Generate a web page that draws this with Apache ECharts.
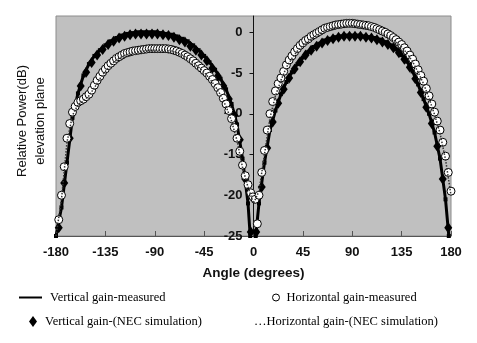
<!DOCTYPE html>
<html>
<head>
<meta charset="utf-8">
<script src="https://cdn.jsdelivr.net/npm/echarts@6/dist/echarts.min.js"></script>
<style>html,body{margin:0;padding:0;background:#fff}#c{width:477px;height:343px}</style>
</head>
<body>
<div id="c"></div>
<script>
// x tick labels / axis range
const xTicks = [-180, -135, -90, -45, 0, 45, 90, 135, 180];
const yTicks = [-25, -20, -15, -10, -5, 0];

// Vertical gain - measured
const vmAngles = [-180,-175,-170,-165,-160,-155,-150,-145,-140,-135,-130,-125,-120,-115,-110,-105,-100,-95,-90,-85,-80,-75,-70,-65,-60,-55,-50,-45,-40,-35,-30,-25,-20,-15,-10,-5,-3,0,2,5,10,15,20,25,30,35,40,45,50,55,60,65,70,75,80,85,90,95,100,105,110,115,120,125,130,135,140,145,150,155,160,165,170,175,178];
const vmValues = [-25,-21.5,-16,-10.5,-7.5,-5.3,-3.9,-2.9,-2.2,-1.6,-1.1,-0.7,-0.4,-0.2,-0.1,0,0,0,0,-0.1,-0.2,-0.3,-0.5,-0.8,-1.1,-1.6,-2.2,-2.9,-3.7,-4.6,-5.7,-7.0,-8.8,-11.3,-15.5,-21,-25,-35,-25,-21,-16,-12,-9.6,-7.6,-6.1,-4.9,-3.9,-3.1,-2.4,-1.8,-1.4,-1.0,-0.8,-0.6,-0.5,-0.4,-0.4,-0.4,-0.5,-0.6,-0.7,-0.9,-1.2,-1.6,-2.1,-2.8,-3.6,-4.8,-6.4,-8.2,-10.0,-12.3,-15.5,-20.5,-25];

// Horizontal gain - measured
const hmAngles = [-177.5,-175,-172.5,-170,-167.5,-165,-162.5,-160,-157.5,-155,-152.5,-150,-147.5,-145,-142.5,-140,-137.5,-135,-132.5,-130,-127.5,-125,-122.5,-120,-117.5,-115,-112.5,-110,-107.5,-105,-102.5,-100,-97.5,-95,-92.5,-90,-87.5,-85,-82.5,-80,-77.5,-75,-72.5,-70,-67.5,-65,-62.5,-60,-57.5,-55,-52.5,-50,-47.5,-45,-42.5,-40,-37.5,-35,-32.5,-30,-27.5,-25,-22.5,-20,-17.5,-15,-12.5,-10,-7.5,-5,-2.5,-0.5,1.5,3.5,5,7.5,10,12.5,15,17.5,20,22.5,25,27.5,30,32.5,35,37.5,40,42.5,45,47.5,50,52.5,55,57.5,60,62.5,65,67.5,70,72.5,75,77.5,80,82.5,85,87.5,90,92.5,95,97.5,100,102.5,105,107.5,110,112.5,115,117.5,120,122.5,125,127.5,130,132.5,135,137.5,140,142.5,145,147.5,150,152.5,155,157.5,160,162.5,165,167.5,170,172.5,175,177.5,180];
const hmValues = [-23,-20,-16.5,-13,-11.2,-9.8,-9.1,-8.6,-8.4,-8.2,-7.9,-7.6,-7.1,-6.5,-5.9,-5.4,-4.9,-4.5,-4.1,-3.8,-3.5,-3.2,-3.0,-2.8,-2.6,-2.5,-2.4,-2.3,-2.25,-2.2,-2.15,-2.1,-2.05,-2.0,-2.0,-2.0,-2.0,-2.0,-2.0,-2.0,-2.05,-2.1,-2.2,-2.3,-2.45,-2.6,-2.8,-3.0,-3.25,-3.5,-3.8,-4.1,-4.4,-4.7,-5.0,-5.4,-5.8,-6.3,-6.8,-7.4,-8.1,-8.8,-9.6,-10.6,-11.7,-13.0,-14.6,-16.3,-17.6,-18.7,-19.7,-20.2,-20.5,-23.5,-20,-17.2,-14.5,-12.0,-10,-8.5,-7.2,-6.3,-5.6,-4.8,-4.0,-3.4,-2.9,-2.4,-2.0,-1.6,-1.3,-1.0,-0.8,-0.5,-0.3,-0.1,0.1,0.3,0.5,0.6,0.7,0.8,0.9,0.95,1.0,1.05,1.1,1.1,1.1,1.05,1.0,0.95,0.9,0.85,0.8,0.7,0.6,0.45,0.3,0.15,0.0,-0.2,-0.4,-0.65,-0.9,-1.2,-1.5,-1.9,-2.3,-2.8,-3.3,-3.9,-4.6,-5.3,-6.0,-6.9,-7.8,-8.8,-9.8,-10.9,-12.0,-13.5,-15.2,-17.2,-19.5];

// Vertical gain - NEC simulation
const vnAngles = [-177.5,-172.5,-167.5,-162.5,-157.5,-152.5,-147.5,-142.5,-137.5,-132.5,-127.5,-122.5,-117.5,-112.5,-107.5,-102.5,-97.5,-92.5,-87.5,-82.5,-77.5,-72.5,-67.5,-62.5,-57.5,-52.5,-47.5,-42.5,-37.5,-32.5,-27.5,-22.5,-17.5,-12.5,-7.5,-2.5,2.5,7.5,12.5,17.5,22.5,27.5,32.5,37.5,42.5,47.5,52.5,57.5,62.5,67.5,72.5,77.5,82.5,87.5,92.5,97.5,102.5,107.5,112.5,117.5,122.5,127.5,132.5,137.5,142.5,147.5,152.5,157.5,162.5,167.5,172.5,177.5];
const vnValues = [-24,-18.5,-13,-9,-6.6,-4.9,-3.7,-2.8,-2.1,-1.5,-1.1,-0.7,-0.5,-0.3,-0.2,-0.2,-0.2,-0.2,-0.2,-0.3,-0.4,-0.6,-0.9,-1.2,-1.7,-2.2,-2.8,-3.5,-4.4,-5.4,-6.6,-8.2,-10.2,-13.2,-18,-24.5,-24.5,-19,-14.2,-11,-8.7,-7,-5.6,-4.5,-3.6,-2.8,-2.2,-1.7,-1.3,-1.0,-0.8,-0.6,-0.5,-0.5,-0.5,-0.5,-0.6,-0.7,-0.9,-1.2,-1.5,-1.9,-2.5,-3.3,-4.3,-5.7,-7.4,-9.2,-11.2,-14,-18,-24];

// Horizontal gain - NEC simulation
const hnAngles = [-180,-175,-170,-165,-160,-155,-150,-145,-140,-135,-130,-125,-120,-115,-110,-105,-100,-95,-90,-85,-80,-75,-70,-65,-60,-55,-50,-45,-40,-35,-30,-25,-20,-15,-10,-5,0,5,10,15,20,25,30,35,40,45,50,55,60,65,70,75,80,85,90,95,100,105,110,115,120,125,130,135,140,145,150,155,160,165,170,175,180];
const hnValues = [-25,-20.5,-13.5,-10.2,-8.9,-8.4,-7.8,-6.8,-5.7,-4.8,-4.0,-3.4,-3.0,-2.7,-2.5,-2.4,-2.3,-2.2,-2.2,-2.2,-2.2,-2.3,-2.5,-2.8,-3.2,-3.7,-4.3,-4.9,-5.7,-6.6,-7.7,-9.1,-10.9,-13.3,-16.6,-19,-21,-19.5,-15,-10.5,-7.8,-5.9,-4.3,-3.2,-2.3,-1.6,-1.1,-0.6,-0.2,0.2,0.4,0.6,0.7,0.8,0.8,0.7,0.6,0.5,0.3,0.0,-0.3,-0.7,-1.2,-1.8,-2.6,-3.6,-4.9,-6.3,-8.1,-10.1,-12.4,-15.6,-20];

const seriesNames = ['Vertical gain-measured', 'Horizontal gain-measured', 'Vertical gain-(NEC simulation)', 'Horizontal gain-(NEC simulation)'];

const pair = (a, v) => a.map((x, i) => [x, v[i]]);

const chart = echarts.init(document.getElementById('c'), null, {renderer: 'canvas'});
const sansBold = {fontFamily: 'Liberation Sans, Arial, sans-serif', fontWeight: 'bold', fontSize: 13, color: '#111'};
const serif = {fontFamily: 'Liberation Serif, Times New Roman, serif', fontSize: 12.5, color: '#000'};

const gridLeft = 56, gridRight = 26, chartW = 477;
const plotW = chartW - gridLeft - gridRight;

chart.setOption({
  animation: false,
  backgroundColor: '#fff',
  grid: {left: gridLeft, right: gridRight, top: 16, bottom: 107, show: true, backgroundColor: '#c0c0c0', borderColor: '#8c8c8c', borderWidth: 1},
  xAxis: {
    type: 'value', min: xTicks[0], max: xTicks[xTicks.length - 1], interval: 45,
    axisLine: {onZero: false, lineStyle: {color: '#555', width: 1}},
    axisTick: {inside: true, length: 5, lineStyle: {color: '#555'}},
    splitLine: {show: false},
    axisLabel: Object.assign({margin: 10}, sansBold),
    name: 'Angle (degrees)', nameLocation: 'middle', nameGap: 30,
    nameTextStyle: {fontFamily: 'Liberation Sans, Arial, sans-serif', fontWeight: 'bold', fontSize: 13.5, color: '#111'}
  },
  yAxis: {
    type: 'value', min: -25, max: 2, interval: 5, position: 'left', offset: -plotW / 2,
    axisLine: {show: true, onZero: false, lineStyle: {color: '#111', width: 1}},
    axisTick: {show: true, length: 4, lineStyle: {color: '#111'}, customValues: yTicks},
    splitLine: {show: false},
    axisLabel: Object.assign({margin: 11, customValues: yTicks, formatter: v => (yTicks.indexOf(v) >= 0 ? String(v) : '')}, sansBold)
  },
  graphic: [{
    type: 'text', x: 31, y: 121, rotation: Math.PI / 2,
    style: {text: 'Relative Power(dB)\nelevation plane', fontFamily: 'Liberation Sans, Arial, sans-serif', fontSize: 13, fill: '#111', align: 'center', verticalAlign: 'middle', lineHeight: 18}
  }],
  legend: [
    {left: 19, top: 291, padding: 0, selectedMode: false, itemWidth: 23, itemHeight: 2, icon: 'rect',
     data: [{name: seriesNames[0], itemStyle: {color: '#000'}}], textStyle: Object.assign({padding: [0, 0, 0, 3]}, serif)},
    {left: 272, top: 291, padding: 0, selectedMode: false, itemWidth: 7, itemHeight: 7, icon: 'circle',
     data: [{name: seriesNames[1], itemStyle: {color: '#fff', borderColor: '#000', borderWidth: 1}}], textStyle: Object.assign({padding: [0, 0, 0, 2]}, serif)},
    {left: 29, top: 315, padding: 0, selectedMode: false, itemWidth: 8, itemHeight: 11, icon: 'diamond',
     data: [{name: seriesNames[2], itemStyle: {color: '#000'}}], textStyle: Object.assign({padding: [0, 0, 0, 3]}, serif)},
    {left: 249, top: 315, padding: 0, selectedMode: false, itemWidth: 0, itemHeight: 0, icon: 'rect',
     data: [{name: seriesNames[3], itemStyle: {color: 'rgba(0,0,0,0)'}}], formatter: n => '\u2026' + n, textStyle: serif}
  ],
  series: [
    {name: seriesNames[2], type: 'line', data: pair(vnAngles, vnValues), lineStyle: {width: 0}, symbol: 'diamond', symbolSize: [8, 11], itemStyle: {color: '#000'}, clip: true, z: 2},
    {name: seriesNames[0], type: 'line', data: pair(vmAngles, vmValues), lineStyle: {width: 3, color: '#000'}, symbol: 'rect', symbolSize: 4, itemStyle: {color: '#000'}, clip: true, z: 3},
    {name: seriesNames[1], type: 'line', data: pair(hmAngles, hmValues), lineStyle: {width: 0}, symbol: 'circle', symbolSize: 8, itemStyle: {color: '#fff', borderColor: '#000', borderWidth: 1}, clip: true, z: 4},
    {name: seriesNames[3], type: 'line', data: pair(hnAngles, hnValues), lineStyle: {width: 1.5, type: 'dotted', color: '#333'}, symbol: 'none', itemStyle: {color: '#333'}, clip: true, z: 5}
  ]
});
</script>
</body>
</html>
